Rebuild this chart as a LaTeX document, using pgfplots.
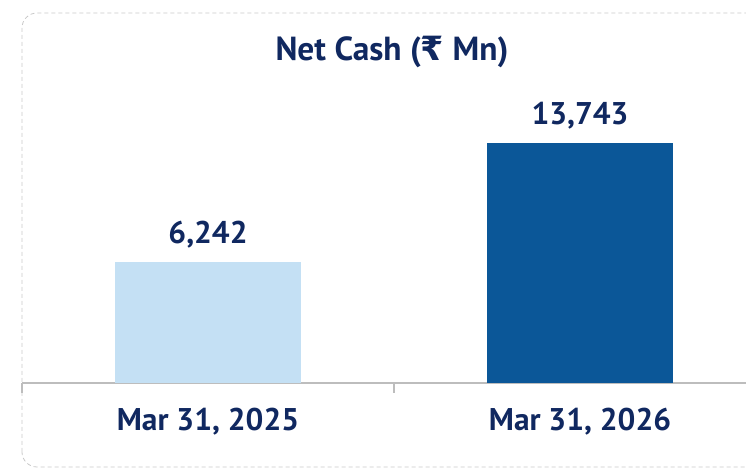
\documentclass[border=0pt]{standalone}
\usepackage{fontspec}
\usepackage{pgfplots}
\pgfplotsset{compat=1.18}
\setmainfont{PT Sans}
\newfontfamily\rupeefont{DejaVu Sans}
\definecolor{navy}{HTML}{102860}
\definecolor{lightbar}{HTML}{C4E0F4}
\definecolor{darkbar}{HTML}{0B5798}
\definecolor{axgray}{HTML}{BDBDBD}
\definecolor{bordergray}{HTML}{C8C8C8}
\begin{document}
\begin{tikzpicture}[x=1bp,y=1bp]
\useasboundingbox (0,0) rectangle (746,470);
\draw[bordergray, line width=0.8bp, dash pattern=on 4bp off 3bp, rounded corners=15bp] (22,3) rectangle (790,457);
\node[anchor=base, text=navy, font=\bfseries\fontsize{33.5}{38}\selectfont] at (392,409) {Net Cash ({\rupeefont ₹} Mn)};
\begin{axis}[
  at={(22bp,87bp)}, anchor=south west,
  scale only axis, width=744bp, height=296bp,
  xmin=-0.5, xmax=1.5, ymin=-1385, ymax=17272,
  clip=false,
  hide y axis,
  axis x line*=bottom,
  x axis line style={axgray, line width=1.5bp},
  xtick={0,1},
  xticklabels={{Mar 31, 2025}, {Mar 31, 2026}},
  major tick length=0pt,
  extra x ticks={-0.5,0.5,1.5},
  extra x tick labels={},
  extra x tick style={major tick length=10bp, tick align=outside, tick style={axgray, line width=1.2bp}},
  xticklabel style={text=navy, font=\bfseries\fontsize{31.5}{36}\selectfont, anchor=base, yshift=-48bp},
  /pgf/number format/assume math mode=true,
]
\addplot[fill=lightbar, draw=none] coordinates {(-0.25,-1385) (-0.25,6242) (0.25,6242) (0.25,-1385)} -- cycle;
\addplot[fill=darkbar, draw=none] coordinates {(0.75,-1385) (0.75,13743) (1.25,13743) (1.25,-1385)} -- cycle;
\addplot[draw=none, mark=none, point meta=y,
  nodes near coords={\pgfmathprintnumber[fixed, precision=0, 1000 sep={,}]{\pgfplotspointmeta}},
  every node near coord/.append style={text=navy, font=\bfseries\fontsize{31.5}{36}\selectfont, anchor=base, yshift=18bp, inner sep=0pt}]
  coordinates {(0,6242) (1,13743)};
\end{axis}
\end{tikzpicture}
\end{document}
